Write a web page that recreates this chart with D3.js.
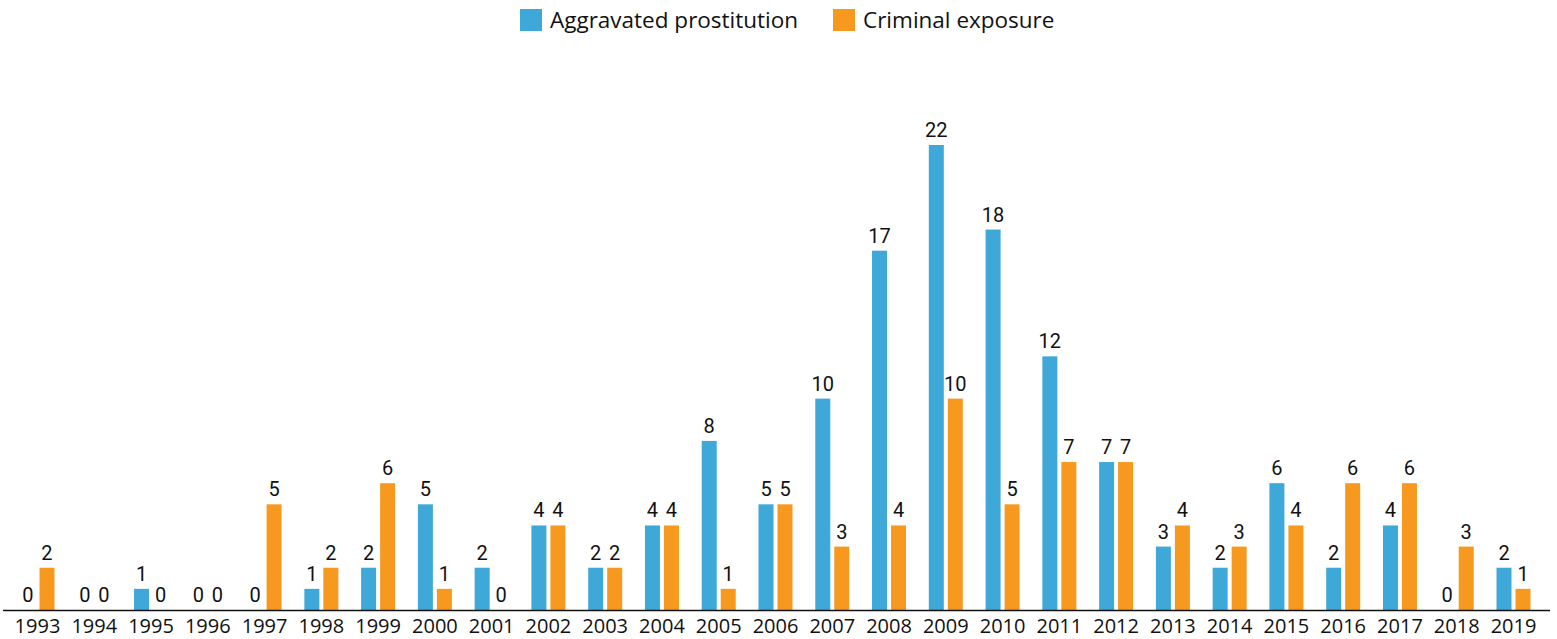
<!DOCTYPE html>
<html>
<head>
<meta charset="utf-8">
<script src="https://cdn.jsdelivr.net/npm/d3@7"></script>
<style>
html,body{margin:0;padding:0;background:#fff;}
svg{display:block;}
</style>
</head>
<body>
<svg id="chart" width="1557" height="639"></svg>
<script>
const years = ["1993","1994","1995","1996","1997","1998","1999","2000","2001","2002","2003","2004","2005","2006","2007","2008","2009","2010","2011","2012","2013","2014","2015","2016","2017","2018","2019"];
const aggravated = [0,0,1,0,0,1,2,5,2,4,2,4,8,5,10,17,22,18,12,7,3,2,6,2,4,0,2];
const criminal   = [2,0,0,0,5,2,6,1,0,4,2,4,1,5,3,4,10,5,7,7,4,3,4,6,6,3,1];
const seriesNames = ["Aggravated prostitution","Criminal exposure"];
const seriesColors = ["#3ea8d8","#f7991f"];
const yMax = 22;

const svg = d3.select("#chart");
const baseY = 610, topY = 145;
const step = 56.77;
const x = d3.scaleBand().domain(years).range([37.5 - step/2, 1513.5 + step/2]).padding(0);
const sub = d3.scaleBand().domain([0,1]).range([0,34]).paddingInner(4/19).paddingOuter(0);
const y = d3.scaleLinear().domain([0, yMax]).range([baseY, topY]);

const rows = years.map((yr,i)=>({year:yr, vals:[aggravated[i], criminal[i]]}));

const g = svg.append("g");
const groups = g.selectAll("g.yr").data(rows).join("g")
  .attr("transform", d => `translate(${x(d.year) + x.bandwidth()/2 - 17},0)`);

groups.selectAll("rect").data(d => d.vals.map((v,k)=>({v,k}))).join("rect")
  .attr("x", d => sub(d.k))
  .attr("width", sub.bandwidth())
  .attr("y", d => y(d.v))
  .attr("height", d => baseY - y(d.v))
  .attr("fill", d => seriesColors[d.k]);

groups.selectAll("text").data(d => d.vals.map((v,k)=>({v,k}))).join("text")
  .attr("x", d => sub(d.k) + sub.bandwidth()/2)
  .attr("y", d => y(d.v) - 8)
  .attr("text-anchor","middle")
  .attr("font-family","Roboto, 'Open Sans', sans-serif")
  .attr("font-size", 20)
  .attr("fill","#111")
  .text(d => d.v);

// axis
const axis = d3.axisBottom(x).tickSize(0).tickPadding(9);
const ax = svg.append("g").attr("transform",`translate(0,${baseY})`).call(axis);
ax.select(".domain").remove();
ax.selectAll("text").attr("font-family","'Open Sans', sans-serif").attr("font-size",20).attr("fill","#111");
svg.append("line").attr("x1",3).attr("x2",1550).attr("y1",baseY+0.5).attr("y2",baseY+0.5)
  .attr("stroke","#111").attr("stroke-width",1.5);

// legend
const legend = svg.append("g").attr("font-family","'Open Sans', sans-serif").attr("font-size",22.5);
const legX = [520, 833];
seriesNames.forEach((n,k)=>{
  legend.append("rect").attr("x",legX[k]).attr("y",9).attr("width",22).attr("height",22).attr("fill",seriesColors[k]);
  legend.append("text").attr("x",legX[k]+30).attr("y",28).attr("fill","#111").text(n);
});
</script>
</body>
</html>
